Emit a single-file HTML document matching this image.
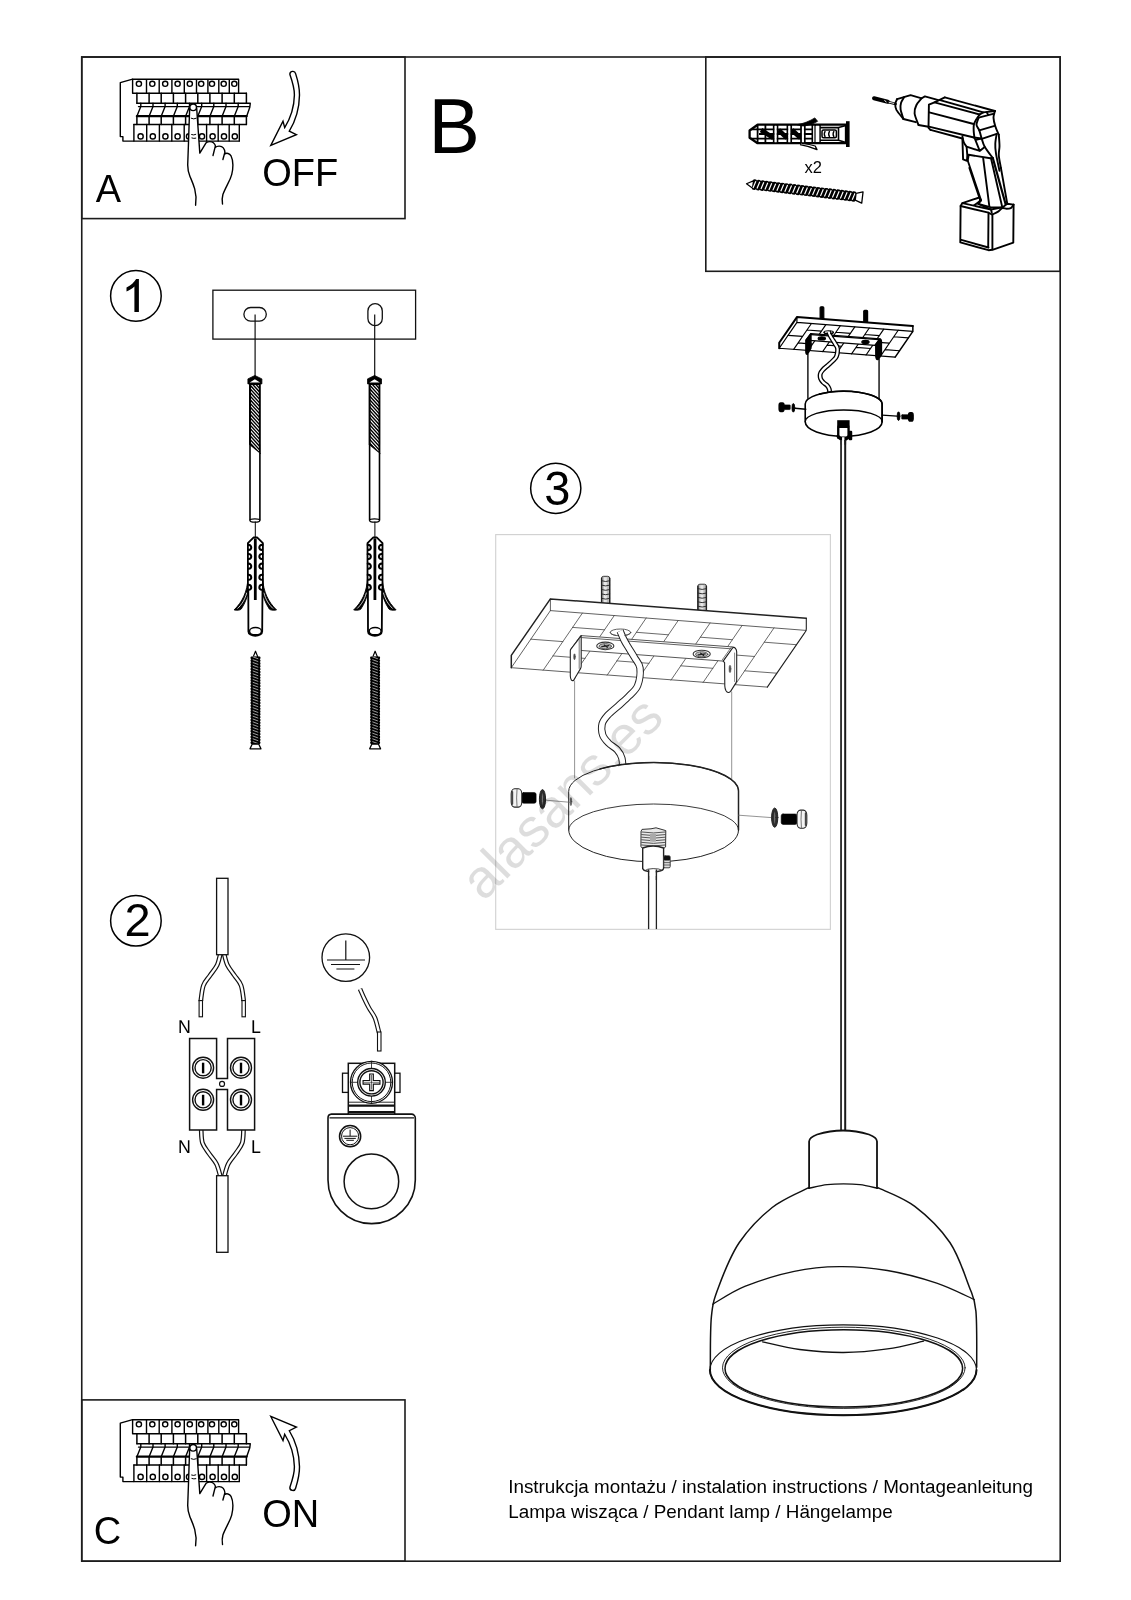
<!DOCTYPE html>
<html><head><meta charset="utf-8"><title>Instrukcja montażu</title>
<style>
html,body{margin:0;padding:0;background:#fff;}
body{width:1131px;height:1600px;overflow:hidden;font-family:"Liberation Sans",sans-serif;}
svg{display:block;}
</style></head><body>
<svg width="1131" height="1600" viewBox="0 0 1131 1600">
<rect width="1131" height="1600" fill="#fff"/>
<g fill="none" stroke="#1c1c1c" stroke-width="1.6">
<rect x="81.75" y="57" width="978.45" height="1504.2"/>
<rect x="81.75" y="57" width="323.25" height="161.6"/>
<rect x="81.75" y="1399.9" width="323.25" height="161.3"/>
<rect x="705.8" y="57" width="354.4" height="214.3"/>
</g>
<g font-family="Liberation Sans, sans-serif" fill="#000" opacity="0.999" style="will-change:opacity">
<text transform="translate(95.8,201.5) scale(1,1.035)" font-size="38" text-anchor="start">A</text>
<text transform="translate(93.8,1544.2) scale(1,1.035)" font-size="38" text-anchor="start">C</text>
<text transform="translate(262.3,186.3) scale(1,1.035)" font-size="38" text-anchor="start">OFF</text>
<text transform="translate(262.3,1526.6) scale(1,1.035)" font-size="38" text-anchor="start">ON</text>
<text transform="translate(428.6,153.2) scale(1,1.012)" font-size="77" text-anchor="start">B</text>
<text transform="translate(804.5,172.8) scale(1.0,1.0)" font-size="16.5" text-anchor="start">x2</text>
<text transform="translate(508.2,1492.7) scale(1.0,1.0)" font-size="18.85" text-anchor="start">Instrukcja montażu / instalation instructions / Montageanleitung</text>
<text transform="translate(508.2,1518.2) scale(1.0,1.0)" font-size="18.85" text-anchor="start">Lampa wisząca / Pendant lamp / Hängelampe</text>
</g>
<g fill="none" stroke="#000" stroke-width="1.5">
<circle cx="135.9" cy="295.9" r="25.3"/>
<circle cx="135.9" cy="920.75" r="25.3"/>
<circle cx="555.75" cy="488.3" r="25.1"/>
</g>
<g font-family="Liberation Sans, sans-serif" fill="#000" opacity="0.999" style="will-change:opacity">
<path d="M138.9,311.9 H134.4 V286.6 C132.4,288.6 129.4,290.4 126.5,291.5 V287.4 C130.8,285.4 134.4,282 136.1,278.9 H138.9 Z"/>
<text transform="translate(137.6,936.3) scale(1,0.985)" font-size="47" text-anchor="middle">2</text>
<text transform="translate(557.3,505.0) scale(1,1.005)" font-size="47" text-anchor="middle">3</text>
</g>
<defs><g id="brk" fill="none" stroke="#000" stroke-width="1.4" stroke-linejoin="round" stroke-linecap="round">
<path d="M132.6,79.2 L120.3,82.6 L120.3,136.6 L122.9,136.6 L122.9,141.1 L239.3,141.1"/>
<path d="M132.6,79.2 H238.6 M132.6,93.3 H246.4 M132.6,79.2 V93.3 M146.5,79.2 V93.3 M159.2,79.2 V93.3 M171.9,79.2 V93.3 M184.3,79.2 V93.3 M196.5,79.2 V93.3 M207.9,79.2 V93.3 M218.8,79.2 V93.3 M229.3,79.2 V93.3 M238.6,79.2 V93.3"/>
<circle cx="138.9" cy="83.8" r="2.6"/>
<circle cx="152.3" cy="83.8" r="2.6"/>
<circle cx="165.2" cy="83.8" r="2.6"/>
<circle cx="177.6" cy="83.8" r="2.6"/>
<circle cx="189.8" cy="83.8" r="2.6"/>
<circle cx="201.2" cy="83.8" r="2.6"/>
<circle cx="212.0" cy="83.8" r="2.6"/>
<circle cx="223.7" cy="83.8" r="2.6"/>
<circle cx="234.3" cy="83.8" r="2.6"/>
<path stroke-width="1.5" d="M136.9,93.3 V103.2 M149.1,93.3 V103.2 M161.2,93.3 V103.2 M173.4,93.3 V103.2 M185.6,93.3 V103.2 M197.8,93.3 V103.2 M209.9,93.3 V103.2 M222.1,93.3 V103.2 M234.3,93.3 V103.2 M246.4,93.3 V103.2"/>
<path d="M136.9,103.2 H250.3 L249.8,107.2 L246.6,116.4 M138.5,106.6 H249.8"/>
<path stroke-width="2.3" d="M136.9,116.2 H246.6"/>
<path d="M140.8,103.2 V106.6 L136.9,116.2 M153.0,103.2 V106.6 L149.1,116.2 M165.1,103.2 V106.6 L161.2,116.2 M177.3,103.2 V106.6 L173.4,116.2 M189.5,103.2 V106.6 L185.6,116.2 M201.7,103.2 V106.6 L197.8,116.2 M213.8,103.2 V106.6 L209.9,116.2 M226.0,103.2 V106.6 L222.1,116.2 M238.2,103.2 V106.6 L234.3,116.2"/>
<path stroke-width="1.5" d="M136.9,117 V124.5 M149.1,117 V124.5 M161.2,117 V124.5 M173.4,117 V124.5 M185.6,117 V124.5 M197.8,117 V124.5 M209.9,117 V124.5 M222.1,117 V124.5 M234.3,117 V124.5 M246.4,117 V124.5"/>
<path d="M133.9,124.5 H246.4"/>
<path d="M133.9,124.5 V141.1 M146.7,124.5 V141.1 M159.4,124.5 V141.1 M171.8,124.5 V141.1 M184.2,124.5 V141.1 M196.3,124.5 V141.1 M206.6,124.5 V141.1 M218.2,124.5 V141.1 M229.2,124.5 V141.1 M239.3,124.5 V141.1"/>
<circle cx="140.6" cy="136.4" r="2.6"/>
<circle cx="152.8" cy="136.4" r="2.6"/>
<circle cx="165.4" cy="136.4" r="2.6"/>
<circle cx="177.6" cy="136.4" r="2.6"/>
<circle cx="189.0" cy="136.4" r="2.6"/>
<circle cx="202.0" cy="136.4" r="2.6"/>
<circle cx="212.6" cy="136.4" r="2.6"/>
<circle cx="224.0" cy="136.4" r="2.6"/>
<circle cx="234.8" cy="136.4" r="2.6"/>
<path d="M195.6,205.2 C196.6,199 196.6,196 194.7,188.9 C193,183 191,179 189.9,176.2 C188.2,172 187.7,168 187.7,165 L188.5,142.7 L189.6,110 A3.65,3.65 0 1 1 196.8,110 L199.8,153.1 L206.2,142.7 C208,141.3 211.5,141.2 213.4,142.7 L215.2,147.6 C217,145.6 221.5,145.6 223.3,147.9 L224.9,153.9 C226.5,152.8 229.6,153.2 231.0,155.8 C232.3,158.5 232.9,162 232.9,165 C232.9,168.5 232.5,171.5 231.7,174.6 C230.6,178.5 229,181.5 227.3,184.9 C225.5,188.5 224,191.5 222.9,194.5 C221.9,198 222,201 222.5,204 Z" fill="#fff" stroke="none"/>
<path d="M195.6,205.2 C196.6,199 196.6,196 194.7,188.9 C193,183 191,179 189.9,176.2 C188.2,172 187.7,168 187.7,165 L188.5,142.7 L189.6,110 A3.65,3.65 0 1 1 196.8,110 L199.8,153.1 L206.2,142.7 C208,141.3 211.5,141.2 213.4,142.7 C214.6,143.7 215.2,144.8 215.4,145.9 L213,155.5 M215.2,147.6 C217,145.6 221.5,145.6 223.3,147.9 C224.4,149.3 224.9,150.8 224.9,152.3 L222.9,159.5 M224.9,153.9 C226.5,152.8 229.6,153.2 231.0,155.8 C232.3,158.5 232.9,162 232.9,165 C232.9,168.5 232.5,171.5 231.7,174.6 C230.6,178.5 229,181.5 227.3,184.9 C225.5,188.5 224,191.5 222.9,194.5 C221.9,198 222,201 222.5,204"/>
<circle cx="193.15" cy="107.3" r="3.3" fill="#fff"/>
<path stroke-width="1" d="M191.2,118.3 Q193.7,119.6 196.2,118.3 M191.6,134.6 Q193.7,135.5 195.8,134.4 M191.9,138 Q193.8,138.8 195.8,138.2"/>
</g>
<path id="arw" fill="#fff" stroke="#000" stroke-width="1.4" stroke-linejoin="miter" d="M289.9,74.6 A2.9,2.9 0 0 1 295.6,73.6 C298.3,82 299.6,88 299.5,95 C299.3,108 295.5,121 289.3,131.1 L296.4,134.7 L270.8,145.4 L283,121.2 L284.7,127.6 C290,119 294.2,107 294.4,95 C294.5,88 292.5,82 289.9,74.6 Z"/>
</defs>
<use href="#brk"/><use href="#brk" transform="translate(0,1340.5)"/>
<use href="#arw"/><use href="#arw" transform="translate(0,1561.85) scale(1,-1)"/>
<g fill="none" stroke="#000" stroke-linejoin="round" stroke-linecap="butt">
<path stroke-width="2.3" fill="#fff" d="M749.6,130.5 L757.6,124.7 H846 V143.2 H757.6 L749.6,137.8 Z"/>
<rect x="846" y="121.2" width="3.6" height="25.8" fill="#000" stroke="none"/>
<path stroke-width="1.6" d="M751,129.4 H813 M751,138.6 H813"/>
<path stroke-width="2.2" d="M759,134 H813"/>
<path stroke-width="4.6" d="M761,130 L773.5,138 M778.5,130 L787,138 M792,130 L800.6,138"/>
<path stroke-width="1.8" d="M757.6,124.7 V143.2 M765.4,124.7 V143.2"/>
<path stroke-width="1.9" d="M773.8,124.7 V143.2 M777.4,124.7 V143.2 M787.5,124.7 V143.2 M791.1,124.7 V143.2 M801.1,124.7 V143.2 M804.7,124.7 V143.2"/>
<path stroke="#fff" stroke-width="2" d="M775.6,126 V142.2 M789.3,126 V142.2 M802.9,126 V142.2"/>
<path stroke-width="1.6" d="M812.3,124.7 V143.2 M815.2,124.7 V143.2 M820,124.7 V143.2"/>
<rect x="815.6" y="126" width="3.6" height="16" fill="#fff" stroke="none"/>
<path stroke-width="1.6" d="M820,127.6 H838.5 L846,125.4 M820,140.3 H838.5 L846,142.4 M838.5,127.6 V140.3"/>
<rect x="822" y="130" width="14.4" height="7.8" rx="1.5" stroke-width="1.5"/>
<path stroke-width="1.4" d="M825.2,131 Q823.4,134 825.2,137 M829.6,131 Q827.8,134 829.6,137 M834,131 Q832.2,134 834,137"/>
<path fill="#000" stroke="#000" stroke-width="0.8" d="M797,124.7 C804,123.5 810,121 814.8,117.9 L817.6,121.3 C813,124 808,125.6 803,126 Z"/>
<path stroke-width="1.3" fill="#fff" d="M802,143.4 C807,144 812,145 815.2,146 L817,149.6 C812,147.3 806,145.6 800,144.6"/>
</g>
<g transform="translate(746.5,183.7) rotate(6.80)"><path d="M0,0 L7,-3.90 L7,3.90 Z" fill="#fff" stroke="#000" stroke-width="1.2" stroke-linejoin="round"/>
<path d="M6,-4.50 L7.00,-5.20 L9.00,-5.20 L10.00,-4.50 L11.00,-5.20 L12.99,-5.20 L13.99,-4.50 L14.99,-5.20 L16.99,-5.20 L17.99,-4.50 L18.99,-5.20 L20.99,-5.20 L21.98,-4.50 L22.98,-5.20 L24.98,-5.20 L25.98,-4.50 L26.98,-5.20 L28.98,-5.20 L29.98,-4.50 L30.98,-5.20 L32.97,-5.20 L33.97,-4.50 L34.97,-5.20 L36.97,-5.20 L37.97,-4.50 L38.97,-5.20 L40.97,-5.20 L41.97,-4.50 L42.96,-5.20 L44.96,-5.20 L45.96,-4.50 L46.96,-5.20 L48.96,-5.20 L49.96,-4.50 L50.96,-5.20 L52.95,-5.20 L53.95,-4.50 L54.95,-5.20 L56.95,-5.20 L57.95,-4.50 L58.95,-5.20 L60.95,-5.20 L61.95,-4.50 L62.95,-5.20 L64.94,-5.20 L65.94,-4.50 L66.94,-5.20 L68.94,-5.20 L69.94,-4.50 L70.94,-5.20 L72.94,-5.20 L73.93,-4.50 L74.93,-5.20 L76.93,-5.20 L77.93,-4.50 L78.93,-5.20 L80.93,-5.20 L81.93,-4.50 L82.93,-5.20 L84.92,-5.20 L85.92,-4.50 L86.92,-5.20 L88.92,-5.20 L89.92,-4.50 L90.92,-5.20 L92.92,-5.20 L93.92,-4.50 L94.91,-5.20 L96.91,-5.20 L97.91,-4.50 L98.91,-5.20 L100.91,-5.20 L101.91,-4.50 L102.91,-5.20 L104.90,-5.20 L105.90,-4.50 L106.90,-5.20 L108.90,-5.20 L109.90,-4.50 L109.9,4.50 L108.90,5.20 L106.90,5.20 L105.90,4.50 L104.90,5.20 L102.91,5.20 L101.91,4.50 L100.91,5.20 L98.91,5.20 L97.91,4.50 L96.91,5.20 L94.91,5.20 L93.92,4.50 L92.92,5.20 L90.92,5.20 L89.92,4.50 L88.92,5.20 L86.92,5.20 L85.92,4.50 L84.92,5.20 L82.93,5.20 L81.93,4.50 L80.93,5.20 L78.93,5.20 L77.93,4.50 L76.93,5.20 L74.93,5.20 L73.93,4.50 L72.94,5.20 L70.94,5.20 L69.94,4.50 L68.94,5.20 L66.94,5.20 L65.94,4.50 L64.94,5.20 L62.95,5.20 L61.95,4.50 L60.95,5.20 L58.95,5.20 L57.95,4.50 L56.95,5.20 L54.95,5.20 L53.95,4.50 L52.95,5.20 L50.96,5.20 L49.96,4.50 L48.96,5.20 L46.96,5.20 L45.96,4.50 L44.96,5.20 L42.96,5.20 L41.97,4.50 L40.97,5.20 L38.97,5.20 L37.97,4.50 L36.97,5.20 L34.97,5.20 L33.97,4.50 L32.97,5.20 L30.98,5.20 L29.98,4.50 L28.98,5.20 L26.98,5.20 L25.98,4.50 L24.98,5.20 L22.98,5.20 L21.98,4.50 L20.99,5.20 L18.99,5.20 L17.99,4.50 L16.99,5.20 L14.99,5.20 L13.99,4.50 L12.99,5.20 L11.00,5.20 L10.00,4.50 L9.00,5.20 L7.00,5.20 L6.00,4.50 Z" fill="#000" stroke="none"/>
<path d="M9.00,-3.50 L7.00,3.50 M12.99,-3.50 L10.99,3.50 M16.99,-3.50 L14.99,3.50 M20.99,-3.50 L18.99,3.50 M24.98,-3.50 L22.98,3.50 M28.98,-3.50 L26.98,3.50 M32.98,-3.50 L30.98,3.50 M36.97,-3.50 L34.97,3.50 M40.97,-3.50 L38.97,3.50 M44.96,-3.50 L42.96,3.50 M48.96,-3.50 L46.96,3.50 M52.96,-3.50 L50.96,3.50 M56.95,-3.50 L54.95,3.50 M60.95,-3.50 L58.95,3.50 M64.94,-3.50 L62.94,3.50 M68.94,-3.50 L66.94,3.50 M72.94,-3.50 L70.94,3.50 M76.93,-3.50 L74.93,3.50 M80.93,-3.50 L78.93,3.50 M84.92,-3.50 L82.92,3.50 M88.92,-3.50 L86.92,3.50 M92.92,-3.50 L90.92,3.50 M96.91,-3.50 L94.91,3.50 M100.91,-3.50 L98.91,3.50 M104.91,-3.50 L102.91,3.50 M108.90,-3.50 L106.90,3.50" stroke="#fff" stroke-width="1.20" fill="none"/>
<path d="M109.9,-3.43 L116.7,-5.6 L116.7,5.6 L109.9,3.43 Z" fill="#fff" stroke="#000" stroke-width="1.3" stroke-linejoin="round"/></g>
<g fill="none" stroke="#000" stroke-width="1.9" stroke-linejoin="round" stroke-linecap="round">
<path stroke-width="4" d="M874.0,98.2 L887.7,101.8"/>
<path stroke="#fff" stroke-width="1" d="M884.7,100.6 L886.3,101.9"/>
<path stroke-width="2.6" d="M887.9,102.0 L895.6,103.9"/>
<path stroke="#fff" stroke-width="0.9" d="M889.1,102.3 L893.9,103.4"/>
<path d="M897.1,99.1 C896.8,99.9 895.4,102.1 895.3,103.9 C895.2,105.7 895.1,107.4 896.4,109.9 C897.8,112.4 902.3,117.5 903.4,119.0"/>
<path d="M897.1,99.1 L910.6,95.2 L921.7,98.3 L924.9,96.4 L937.6,99.9"/>
<path d="M904.2,97.0 C903.7,98.0 901.6,101.0 901.0,103.1 C900.4,105.2 900.2,106.8 900.6,109.5 C901.0,112.1 903.0,117.4 903.4,119.0"/>
<path d="M903.4,119.0 L915.8,122.2"/>
<path d="M921.7,98.3 C920.8,99.5 917.3,103.0 916.2,105.5 C915.0,108.0 914.2,110.2 914.6,113.5 C915.0,116.7 917.9,123.1 918.5,125.0"/>
<path d="M918.5,125.0 L928.5,126.8"/>
<path d="M944.8,97.4 L934.5,102.3 L928.9,104.7 L928.5,127.8 L930.5,129.9"/>
<path d="M944.8,97.4 L994.9,111.0 M939.2,99.9 L983.2,112.4 M934.5,102.3 L979.7,114.5 M929.3,112.3 L973.7,124.0 M928.9,126.6 L974.0,137.5 M930.5,129.9 L962.4,138.5"/>
<path d="M979.7,114.5 L983.2,112.4 L994.9,111.0"/>
<path d="M978.6,117.7 L993.1,113.8 M986.8,112.4 L988.2,114.9"/>
<path d="M979.7,114.5 C979.2,115.1 977.8,116.8 976.9,118.4 C975.9,120.0 974.6,121.9 974.0,124.0 C973.5,126.2 973.6,128.9 973.7,131.1 C973.8,133.4 974.3,136.4 974.4,137.5"/>
<path d="M978.6,117.7 C978.3,118.9 976.4,122.6 976.5,124.8 C976.6,126.9 978.5,128.1 979.3,130.4 C980.2,132.8 980.9,136.2 981.8,138.9 C982.7,141.6 982.8,143.5 984.7,146.7 C986.5,149.9 991.4,156.1 992.8,158.0"/>
<path d="M994.9,111.0 C994.7,112.1 993.4,115.1 993.5,117.7 C993.6,120.2 994.4,123.3 995.3,126.2 C996.1,129.0 998.2,133.2 998.8,134.7"/>
<path d="M979.3,130.4 L994.6,125.8 M981.8,138.9 L996.7,133.9 M974.0,137.5 L981.1,138.5"/>
<path d="M962.4,136.1 C962.6,137.1 963.1,140.7 963.8,142.4 C964.5,144.2 966.1,146.0 966.6,146.7 M966.6,146.7 L979.7,150.9 L984.7,147.0 M974.4,137.5 L979.7,150.9 M976.9,139.6 L981.1,138.5"/>
<path d="M962.4,138.5 L963.1,159.4 L967.0,160.8 L967.3,155.2 L966.6,146.7"/>
<path d="M967.7,160.5 L968.7,154.8 L990.3,158.3 L992.8,158.0"/>
<path stroke-width="1.8" d="M967.7,160.5 L981.1,200.3"/>
<path d="M969.4,167.9 L979.3,197.5 M983.2,158.3 L989.3,206.0 M991.0,158.3 L1002.3,207.4"/>
<path stroke-width="2.2" d="M992.8,158.0 L1005.9,205.3"/>
<path d="M998.8,134.7 C998.9,136.5 999.5,142.6 999.5,146.0 C999.5,149.4 998.6,151.5 998.8,155.2 C999.0,158.8 1000.6,165.8 1000.9,167.9"/>
<path d="M1000.9,167.9 L1007.3,203.8"/>
<path d="M996.7,133.9 C996.4,135.6 995.4,140.5 995.3,143.8 C995.1,147.1 995.3,149.3 996.0,153.7 C996.7,158.2 998.9,167.9 999.5,170.7"/>
<path fill="#fff" d="M960.6,206.0 L960.3,242.4 L988.5,250.2 L992.4,249.8 L1013.3,242.7 L1013.6,204.6 L1007.3,203.8 L1002.3,207.4 L991.0,209.5 L978.3,203.8 L981.1,200.3 L979.3,197.5 L962.4,203.1 Z"/>
<path d="M960.6,206.0 L988.5,212.7 L988.2,247.7 M992.4,214.5 L992.4,249.3 M961.3,239.9 L988.5,247.5"/>
<path d="M962.4,203.1 L991.0,209.5 L991.7,212.3 M978.3,203.8 L991.0,207.4 L1002.3,207.4"/>
<path d="M992.4,214.5 C993.4,214.0 996.4,212.7 998.1,211.6 C999.7,210.6 1000.9,208.6 1002.3,208.1 C1003.7,207.6 1005.2,208.8 1006.6,208.8 C1008.0,208.8 1009.6,208.8 1010.8,208.1 C1012.0,207.4 1013.2,205.1 1013.6,204.6"/>
<path d="M988.5,212.7 C988.8,212.9 989.7,213.5 990.3,213.7 C991.0,214.0 992.1,214.3 992.4,214.5"/>
<path d="M979.3,197.5 C979.4,198.1 980.6,199.7 979.7,201.0 C978.8,202.3 975.0,204.6 974.0,205.3"/>
</g>
<g fill="none" stroke="#111" stroke-width="1.3">
<rect x="212.9" y="290.2" width="202.7" height="48.9"/>
<rect x="243.9" y="307.5" width="22.4" height="13.6" rx="6.8"/>
<rect x="367.9" y="303.7" width="14.4" height="21.9" rx="7.2"/>
<path d="M255.1,314.5 V376 M374.7,314.5 V376" stroke-width="1.2"/>
</g>
<g stroke="#000" fill="none" stroke-linejoin="round">
<path d="M247.9,378.9 L254.9,375.5 L261.9,378.9 V383.9 H247.9 Z" fill="#000" stroke-width="0.8"/>
<path d="M249.70000000000002,382.6 L254.9,379.3 L260.1,382.6 Z" fill="#fff" stroke="none"/>
<path d="M249.0,383.9 H260.8 V454.3 L249.0,444.6 Z" fill="#000" stroke="none"/>
<clipPath id="bc254"><path d="M251.0,384.9 H258.90000000000003 V451.6 L251.0,443.4 Z"/></clipPath>
<path clip-path="url(#bc254)" d="M250.0,376.00 L260.8,387.90 M250.0,379.62 L260.8,391.52 M250.0,383.24 L260.8,395.14 M250.0,386.86 L260.8,398.76 M250.0,390.48 L260.8,402.38 M250.0,394.10 L260.8,406.00 M250.0,397.72 L260.8,409.62 M250.0,401.34 L260.8,413.24 M250.0,404.96 L260.8,416.86 M250.0,408.58 L260.8,420.48 M250.0,412.20 L260.8,424.10 M250.0,415.82 L260.8,427.72 M250.0,419.44 L260.8,431.34 M250.0,423.06 L260.8,434.96 M250.0,426.68 L260.8,438.58 M250.0,430.30 L260.8,442.20 M250.0,433.92 L260.8,445.82 M250.0,437.54 L260.8,449.44 M250.0,441.16 L260.8,453.06 M250.0,444.78 L260.8,456.68 M250.0,448.40 L260.8,460.30" stroke="#fff" stroke-width="1.05"/>
<path d="M250.0,444 V520.6 M259.9,453 V520.6" stroke-width="1.6"/>
<ellipse cx="254.9" cy="520.5" rx="4.9" ry="1.7" stroke-width="1.3" fill="#fff"/>
</g>
<g transform="translate(255.3,0)" stroke="#000" fill="none" stroke-linejoin="round" stroke-linecap="round">
<path d="M0,522 V538" stroke-width="1"/>
<path d="M-7.3,578 C-8,592 -13,602 -21.2,609.9 C-17,610.6 -15,610 -14,609 C-10,603 -7.5,596 -6.6,590 Z" fill="#000" stroke-width="0.9"/>
<path d="M-8.6,593 C-10.5,600 -13.5,604.5 -17.5,608.3" stroke="#fff" stroke-width="0.8"/>
<path d="M7.3,578 C8,592 13,602 21.2,609.9 C17,610.6 15,610 14,609 C10,603 7.5,596 6.6,590 Z" fill="#000" stroke-width="0.9"/>
<path d="M8.6,593 C10.5,600 13.5,604.5 17.5,608.3" stroke="#fff" stroke-width="0.8"/>
<path d="M-7,588 L-6.9,631.4 A6.9,4.5 0 0 0 6.9,631.4 L7.2,588 Z" fill="#fff" stroke-width="1.8"/>
<ellipse cx="0.2" cy="631.2" rx="6" ry="3.6" stroke-width="1.5" fill="#fff"/>
<path d="M-7.4,590 V543.2 L-1.6,537.3 H1.8 L7.6,543.2 V590" fill="#fff" stroke-width="1.8"/>
<path d="M-7.2,544.9 C-3.2,544.3 -3.0,550.3 -6.8,549.9" stroke-width="2.1"/>
<path d="M7.2,544.9 C3.2,544.3 3.0,550.3 6.8,549.9" stroke-width="2.1"/>
<path d="M-7.2,554.0 C-3.2,553.4 -3.0,559.4 -6.8,559.0" stroke-width="2.1"/>
<path d="M7.2,554.0 C3.2,553.4 3.0,559.4 6.8,559.0" stroke-width="2.1"/>
<path d="M-7.2,563.6999999999999 C-3.2,563.0999999999999 -3.0,569.0999999999999 -6.8,568.6999999999999" stroke-width="2.1"/>
<path d="M7.2,563.6999999999999 C3.2,563.0999999999999 3.0,569.0999999999999 6.8,568.6999999999999" stroke-width="2.1"/>
<path d="M-7.2,574.8 C-3.2,574.1999999999999 -3.0,580.1999999999999 -6.8,579.8" stroke-width="2.1"/>
<path d="M7.2,574.8 C3.2,574.1999999999999 3.0,580.1999999999999 6.8,579.8" stroke-width="2.1"/>
<path d="M-7.2,584.8 C-3.2,584.1999999999999 -3.0,590.1999999999999 -6.8,589.8" stroke-width="2.1"/>
<path d="M7.2,584.8 C3.2,584.1999999999999 3.0,590.1999999999999 6.8,589.8" stroke-width="2.1"/>
<path d="M0,538.3 V600" stroke-width="2.8" stroke-linecap="butt"/>
</g>
<g transform="translate(255.5,651.2) rotate(90)"><path d="M0,0 L6.2,-2.50 L6.2,2.50 Z" fill="#fff" stroke="#000" stroke-width="1.2" stroke-linejoin="round"/>
<path d="M5.2,-4.25 L5.91,-4.95 L7.32,-4.95 L8.03,-4.25 L8.73,-4.95 L10.15,-4.95 L10.85,-4.25 L11.56,-4.95 L12.97,-4.95 L13.68,-4.25 L14.38,-4.95 L15.80,-4.95 L16.50,-4.25 L17.21,-4.95 L18.62,-4.95 L19.33,-4.25 L20.04,-4.95 L21.45,-4.95 L22.15,-4.25 L22.86,-4.95 L24.27,-4.95 L24.98,-4.25 L25.69,-4.95 L27.10,-4.95 L27.81,-4.25 L28.51,-4.95 L29.93,-4.95 L30.63,-4.25 L31.34,-4.95 L32.75,-4.95 L33.46,-4.25 L34.16,-4.95 L35.58,-4.95 L36.28,-4.25 L36.99,-4.95 L38.40,-4.95 L39.11,-4.25 L39.82,-4.95 L41.23,-4.95 L41.94,-4.25 L42.64,-4.95 L44.05,-4.95 L44.76,-4.25 L45.47,-4.95 L46.88,-4.95 L47.59,-4.25 L48.29,-4.95 L49.71,-4.95 L50.41,-4.25 L51.12,-4.95 L52.53,-4.95 L53.24,-4.25 L53.95,-4.95 L55.36,-4.95 L56.06,-4.25 L56.77,-4.95 L58.18,-4.95 L58.89,-4.25 L59.60,-4.95 L61.01,-4.95 L61.72,-4.25 L62.42,-4.95 L63.84,-4.95 L64.54,-4.25 L65.25,-4.95 L66.66,-4.95 L67.37,-4.25 L68.07,-4.95 L69.49,-4.95 L70.19,-4.25 L70.90,-4.95 L72.31,-4.95 L73.02,-4.25 L73.73,-4.95 L75.14,-4.95 L75.85,-4.25 L76.55,-4.95 L77.96,-4.95 L78.67,-4.25 L79.38,-4.95 L80.79,-4.95 L81.50,-4.25 L82.20,-4.95 L83.62,-4.95 L84.32,-4.25 L85.03,-4.95 L86.44,-4.95 L87.15,-4.25 L87.85,-4.95 L89.27,-4.95 L89.97,-4.25 L90.68,-4.95 L92.09,-4.95 L92.80,-4.25 L92.8,4.25 L92.09,4.95 L90.68,4.95 L89.97,4.25 L89.27,4.95 L87.85,4.95 L87.15,4.25 L86.44,4.95 L85.03,4.95 L84.32,4.25 L83.62,4.95 L82.20,4.95 L81.50,4.25 L80.79,4.95 L79.38,4.95 L78.67,4.25 L77.96,4.95 L76.55,4.95 L75.85,4.25 L75.14,4.95 L73.73,4.95 L73.02,4.25 L72.31,4.95 L70.90,4.95 L70.19,4.25 L69.49,4.95 L68.07,4.95 L67.37,4.25 L66.66,4.95 L65.25,4.95 L64.54,4.25 L63.84,4.95 L62.42,4.95 L61.72,4.25 L61.01,4.95 L59.60,4.95 L58.89,4.25 L58.18,4.95 L56.77,4.95 L56.06,4.25 L55.36,4.95 L53.95,4.95 L53.24,4.25 L52.53,4.95 L51.12,4.95 L50.41,4.25 L49.71,4.95 L48.29,4.95 L47.59,4.25 L46.88,4.95 L45.47,4.95 L44.76,4.25 L44.05,4.95 L42.64,4.95 L41.94,4.25 L41.23,4.95 L39.82,4.95 L39.11,4.25 L38.40,4.95 L36.99,4.95 L36.28,4.25 L35.58,4.95 L34.16,4.95 L33.46,4.25 L32.75,4.95 L31.34,4.95 L30.63,4.25 L29.93,4.95 L28.51,4.95 L27.81,4.25 L27.10,4.95 L25.69,4.95 L24.98,4.25 L24.27,4.95 L22.86,4.95 L22.15,4.25 L21.45,4.95 L20.04,4.95 L19.33,4.25 L18.62,4.95 L17.21,4.95 L16.50,4.25 L15.80,4.95 L14.38,4.95 L13.68,4.25 L12.97,4.95 L11.56,4.95 L10.85,4.25 L10.15,4.95 L8.73,4.95 L8.03,4.25 L7.32,4.95 L5.91,4.95 L5.20,4.25 Z" fill="#000" stroke="none"/>
<path d="M7.61,-2.75 L5.61,2.75 M10.44,-2.75 L8.44,2.75 M13.26,-2.75 L11.26,2.75 M16.09,-2.75 L14.09,2.75 M18.92,-2.75 L16.92,2.75 M21.74,-2.75 L19.74,2.75 M24.57,-2.75 L22.57,2.75 M27.39,-2.75 L25.39,2.75 M30.22,-2.75 L28.22,2.75 M33.05,-2.75 L31.05,2.75 M35.87,-2.75 L33.87,2.75 M38.70,-2.75 L36.70,2.75 M41.52,-2.75 L39.52,2.75 M44.35,-2.75 L42.35,2.75 M47.17,-2.75 L45.17,2.75 M50.00,-2.75 L48.00,2.75 M52.83,-2.75 L50.83,2.75 M55.65,-2.75 L53.65,2.75 M58.48,-2.75 L56.48,2.75 M61.30,-2.75 L59.30,2.75 M64.13,-2.75 L62.13,2.75 M66.95,-2.75 L64.95,2.75 M69.78,-2.75 L67.78,2.75 M72.61,-2.75 L70.61,2.75 M75.43,-2.75 L73.43,2.75 M78.26,-2.75 L76.26,2.75 M81.08,-2.75 L79.08,2.75 M83.91,-2.75 L81.91,2.75 M86.74,-2.75 L84.74,2.75 M89.56,-2.75 L87.56,2.75 M92.39,-2.75 L90.39,2.75" stroke="#fff" stroke-width="0.62" fill="none"/>
<path d="M92.8,-3.27 L97.6,-5.45 L97.6,5.45 L92.8,3.27 Z" fill="#fff" stroke="#000" stroke-width="1.3" stroke-linejoin="round"/></g>
<g stroke="#000" fill="none" stroke-linejoin="round">
<path d="M367.5,378.9 L374.5,375.5 L381.5,378.9 V383.9 H367.5 Z" fill="#000" stroke-width="0.8"/>
<path d="M369.3,382.6 L374.5,379.3 L379.7,382.6 Z" fill="#fff" stroke="none"/>
<path d="M368.6,383.9 H380.4 V454.3 L368.6,444.6 Z" fill="#000" stroke="none"/>
<clipPath id="bc374"><path d="M370.6,384.9 H378.5 V451.6 L370.6,443.4 Z"/></clipPath>
<path clip-path="url(#bc374)" d="M369.6,376.00 L380.4,387.90 M369.6,379.62 L380.4,391.52 M369.6,383.24 L380.4,395.14 M369.6,386.86 L380.4,398.76 M369.6,390.48 L380.4,402.38 M369.6,394.10 L380.4,406.00 M369.6,397.72 L380.4,409.62 M369.6,401.34 L380.4,413.24 M369.6,404.96 L380.4,416.86 M369.6,408.58 L380.4,420.48 M369.6,412.20 L380.4,424.10 M369.6,415.82 L380.4,427.72 M369.6,419.44 L380.4,431.34 M369.6,423.06 L380.4,434.96 M369.6,426.68 L380.4,438.58 M369.6,430.30 L380.4,442.20 M369.6,433.92 L380.4,445.82 M369.6,437.54 L380.4,449.44 M369.6,441.16 L380.4,453.06 M369.6,444.78 L380.4,456.68 M369.6,448.40 L380.4,460.30" stroke="#fff" stroke-width="1.05"/>
<path d="M369.6,444 V520.6 M379.5,453 V520.6" stroke-width="1.6"/>
<ellipse cx="374.5" cy="520.5" rx="4.9" ry="1.7" stroke-width="1.3" fill="#fff"/>
</g>
<g transform="translate(374.9,0)" stroke="#000" fill="none" stroke-linejoin="round" stroke-linecap="round">
<path d="M0,522 V538" stroke-width="1"/>
<path d="M-7.3,578 C-8,592 -13,602 -21.2,609.9 C-17,610.6 -15,610 -14,609 C-10,603 -7.5,596 -6.6,590 Z" fill="#000" stroke-width="0.9"/>
<path d="M-8.6,593 C-10.5,600 -13.5,604.5 -17.5,608.3" stroke="#fff" stroke-width="0.8"/>
<path d="M7.3,578 C8,592 13,602 21.2,609.9 C17,610.6 15,610 14,609 C10,603 7.5,596 6.6,590 Z" fill="#000" stroke-width="0.9"/>
<path d="M8.6,593 C10.5,600 13.5,604.5 17.5,608.3" stroke="#fff" stroke-width="0.8"/>
<path d="M-7,588 L-6.9,631.4 A6.9,4.5 0 0 0 6.9,631.4 L7.2,588 Z" fill="#fff" stroke-width="1.8"/>
<ellipse cx="0.2" cy="631.2" rx="6" ry="3.6" stroke-width="1.5" fill="#fff"/>
<path d="M-7.4,590 V543.2 L-1.6,537.3 H1.8 L7.6,543.2 V590" fill="#fff" stroke-width="1.8"/>
<path d="M-7.2,544.9 C-3.2,544.3 -3.0,550.3 -6.8,549.9" stroke-width="2.1"/>
<path d="M7.2,544.9 C3.2,544.3 3.0,550.3 6.8,549.9" stroke-width="2.1"/>
<path d="M-7.2,554.0 C-3.2,553.4 -3.0,559.4 -6.8,559.0" stroke-width="2.1"/>
<path d="M7.2,554.0 C3.2,553.4 3.0,559.4 6.8,559.0" stroke-width="2.1"/>
<path d="M-7.2,563.6999999999999 C-3.2,563.0999999999999 -3.0,569.0999999999999 -6.8,568.6999999999999" stroke-width="2.1"/>
<path d="M7.2,563.6999999999999 C3.2,563.0999999999999 3.0,569.0999999999999 6.8,568.6999999999999" stroke-width="2.1"/>
<path d="M-7.2,574.8 C-3.2,574.1999999999999 -3.0,580.1999999999999 -6.8,579.8" stroke-width="2.1"/>
<path d="M7.2,574.8 C3.2,574.1999999999999 3.0,580.1999999999999 6.8,579.8" stroke-width="2.1"/>
<path d="M-7.2,584.8 C-3.2,584.1999999999999 -3.0,590.1999999999999 -6.8,589.8" stroke-width="2.1"/>
<path d="M7.2,584.8 C3.2,584.1999999999999 3.0,590.1999999999999 6.8,589.8" stroke-width="2.1"/>
<path d="M0,538.3 V600" stroke-width="2.8" stroke-linecap="butt"/>
</g>
<g transform="translate(375.1,651.2) rotate(90)"><path d="M0,0 L6.2,-2.50 L6.2,2.50 Z" fill="#fff" stroke="#000" stroke-width="1.2" stroke-linejoin="round"/>
<path d="M5.2,-4.25 L5.91,-4.95 L7.32,-4.95 L8.03,-4.25 L8.73,-4.95 L10.15,-4.95 L10.85,-4.25 L11.56,-4.95 L12.97,-4.95 L13.68,-4.25 L14.38,-4.95 L15.80,-4.95 L16.50,-4.25 L17.21,-4.95 L18.62,-4.95 L19.33,-4.25 L20.04,-4.95 L21.45,-4.95 L22.15,-4.25 L22.86,-4.95 L24.27,-4.95 L24.98,-4.25 L25.69,-4.95 L27.10,-4.95 L27.81,-4.25 L28.51,-4.95 L29.93,-4.95 L30.63,-4.25 L31.34,-4.95 L32.75,-4.95 L33.46,-4.25 L34.16,-4.95 L35.58,-4.95 L36.28,-4.25 L36.99,-4.95 L38.40,-4.95 L39.11,-4.25 L39.82,-4.95 L41.23,-4.95 L41.94,-4.25 L42.64,-4.95 L44.05,-4.95 L44.76,-4.25 L45.47,-4.95 L46.88,-4.95 L47.59,-4.25 L48.29,-4.95 L49.71,-4.95 L50.41,-4.25 L51.12,-4.95 L52.53,-4.95 L53.24,-4.25 L53.95,-4.95 L55.36,-4.95 L56.06,-4.25 L56.77,-4.95 L58.18,-4.95 L58.89,-4.25 L59.60,-4.95 L61.01,-4.95 L61.72,-4.25 L62.42,-4.95 L63.84,-4.95 L64.54,-4.25 L65.25,-4.95 L66.66,-4.95 L67.37,-4.25 L68.07,-4.95 L69.49,-4.95 L70.19,-4.25 L70.90,-4.95 L72.31,-4.95 L73.02,-4.25 L73.73,-4.95 L75.14,-4.95 L75.85,-4.25 L76.55,-4.95 L77.96,-4.95 L78.67,-4.25 L79.38,-4.95 L80.79,-4.95 L81.50,-4.25 L82.20,-4.95 L83.62,-4.95 L84.32,-4.25 L85.03,-4.95 L86.44,-4.95 L87.15,-4.25 L87.85,-4.95 L89.27,-4.95 L89.97,-4.25 L90.68,-4.95 L92.09,-4.95 L92.80,-4.25 L92.8,4.25 L92.09,4.95 L90.68,4.95 L89.97,4.25 L89.27,4.95 L87.85,4.95 L87.15,4.25 L86.44,4.95 L85.03,4.95 L84.32,4.25 L83.62,4.95 L82.20,4.95 L81.50,4.25 L80.79,4.95 L79.38,4.95 L78.67,4.25 L77.96,4.95 L76.55,4.95 L75.85,4.25 L75.14,4.95 L73.73,4.95 L73.02,4.25 L72.31,4.95 L70.90,4.95 L70.19,4.25 L69.49,4.95 L68.07,4.95 L67.37,4.25 L66.66,4.95 L65.25,4.95 L64.54,4.25 L63.84,4.95 L62.42,4.95 L61.72,4.25 L61.01,4.95 L59.60,4.95 L58.89,4.25 L58.18,4.95 L56.77,4.95 L56.06,4.25 L55.36,4.95 L53.95,4.95 L53.24,4.25 L52.53,4.95 L51.12,4.95 L50.41,4.25 L49.71,4.95 L48.29,4.95 L47.59,4.25 L46.88,4.95 L45.47,4.95 L44.76,4.25 L44.05,4.95 L42.64,4.95 L41.94,4.25 L41.23,4.95 L39.82,4.95 L39.11,4.25 L38.40,4.95 L36.99,4.95 L36.28,4.25 L35.58,4.95 L34.16,4.95 L33.46,4.25 L32.75,4.95 L31.34,4.95 L30.63,4.25 L29.93,4.95 L28.51,4.95 L27.81,4.25 L27.10,4.95 L25.69,4.95 L24.98,4.25 L24.27,4.95 L22.86,4.95 L22.15,4.25 L21.45,4.95 L20.04,4.95 L19.33,4.25 L18.62,4.95 L17.21,4.95 L16.50,4.25 L15.80,4.95 L14.38,4.95 L13.68,4.25 L12.97,4.95 L11.56,4.95 L10.85,4.25 L10.15,4.95 L8.73,4.95 L8.03,4.25 L7.32,4.95 L5.91,4.95 L5.20,4.25 Z" fill="#000" stroke="none"/>
<path d="M7.61,-2.75 L5.61,2.75 M10.44,-2.75 L8.44,2.75 M13.26,-2.75 L11.26,2.75 M16.09,-2.75 L14.09,2.75 M18.92,-2.75 L16.92,2.75 M21.74,-2.75 L19.74,2.75 M24.57,-2.75 L22.57,2.75 M27.39,-2.75 L25.39,2.75 M30.22,-2.75 L28.22,2.75 M33.05,-2.75 L31.05,2.75 M35.87,-2.75 L33.87,2.75 M38.70,-2.75 L36.70,2.75 M41.52,-2.75 L39.52,2.75 M44.35,-2.75 L42.35,2.75 M47.17,-2.75 L45.17,2.75 M50.00,-2.75 L48.00,2.75 M52.83,-2.75 L50.83,2.75 M55.65,-2.75 L53.65,2.75 M58.48,-2.75 L56.48,2.75 M61.30,-2.75 L59.30,2.75 M64.13,-2.75 L62.13,2.75 M66.95,-2.75 L64.95,2.75 M69.78,-2.75 L67.78,2.75 M72.61,-2.75 L70.61,2.75 M75.43,-2.75 L73.43,2.75 M78.26,-2.75 L76.26,2.75 M81.08,-2.75 L79.08,2.75 M83.91,-2.75 L81.91,2.75 M86.74,-2.75 L84.74,2.75 M89.56,-2.75 L87.56,2.75 M92.39,-2.75 L90.39,2.75" stroke="#fff" stroke-width="0.62" fill="none"/>
<path d="M92.8,-3.27 L97.6,-5.45 L97.6,5.45 L92.8,3.27 Z" fill="#fff" stroke="#000" stroke-width="1.3" stroke-linejoin="round"/></g>
<g fill="none" stroke="#111" stroke-linejoin="miter">
<path d="M220.6,953.0 C220.0,955.0 219.0,961.2 217.2,965.0 C215.4,968.8 212.3,972.1 210.0,975.5 C207.7,978.9 204.9,981.3 203.4,985.5 C201.9,989.7 201.2,998.1 200.8,1000.6" fill="none" stroke="#111" stroke-width="4.7"/><path d="M220.6,953.0 C220.0,955.0 219.0,961.2 217.2,965.0 C215.4,968.8 212.3,972.1 210.0,975.5 C207.7,978.9 204.9,981.3 203.4,985.5 C201.9,989.7 201.2,998.1 200.8,1000.6" fill="none" stroke="#fff" stroke-width="2.3"/>
<path d="M223.9,953.0 C224.5,955.0 225.6,961.2 227.4,965.0 C229.2,968.8 232.2,972.1 234.5,975.5 C236.8,978.9 239.6,981.3 241.1,985.5 C242.6,989.7 243.3,998.1 243.7,1000.6" fill="none" stroke="#111" stroke-width="4.7"/><path d="M223.9,953.0 C224.5,955.0 225.6,961.2 227.4,965.0 C229.2,968.8 232.2,972.1 234.5,975.5 C236.8,978.9 239.6,981.3 241.1,985.5 C242.6,989.7 243.3,998.1 243.7,1000.6" fill="none" stroke="#fff" stroke-width="2.3"/>
<path d="M198.5,1000.6 H203.1 M241.4,1000.6 H246" stroke-width="1.2"/>
<rect x="199.1" y="1000.6" width="3.4" height="16.2" stroke-width="1.1" fill="#fff"/>
<rect x="242" y="1000.6" width="3.4" height="16.2" stroke-width="1.1" fill="#fff"/>
<rect x="216.6" y="878.3" width="11.4" height="76.4" stroke-width="1.3" fill="#fff"/>
<path d="M201.2,1129.9 C201.4,1132.1 201.2,1139.1 202.5,1143.0 C203.8,1146.9 206.7,1150.0 209.0,1153.5 C211.3,1157.0 214.6,1160.1 216.5,1164.0 C218.4,1167.9 219.9,1174.8 220.6,1177.0" fill="none" stroke="#111" stroke-width="4.7"/><path d="M201.2,1129.9 C201.4,1132.1 201.2,1139.1 202.5,1143.0 C203.8,1146.9 206.7,1150.0 209.0,1153.5 C211.3,1157.0 214.6,1160.1 216.5,1164.0 C218.4,1167.9 219.9,1174.8 220.6,1177.0" fill="none" stroke="#fff" stroke-width="2.3"/>
<path d="M243.5,1129.9 C243.3,1132.1 243.5,1139.1 242.2,1143.0 C240.9,1146.9 238.0,1150.0 235.7,1153.5 C233.4,1157.0 230.1,1160.1 228.2,1164.0 C226.3,1167.9 224.8,1174.8 224.1,1177.0" fill="none" stroke="#111" stroke-width="4.7"/><path d="M243.5,1129.9 C243.3,1132.1 243.5,1139.1 242.2,1143.0 C240.9,1146.9 238.0,1150.0 235.7,1153.5 C233.4,1157.0 230.1,1160.1 228.2,1164.0 C226.3,1167.9 224.8,1174.8 224.1,1177.0" fill="none" stroke="#fff" stroke-width="2.3"/>
<rect x="216.6" y="1175.7" width="11.4" height="76.6" stroke-width="1.3" fill="#fff"/>
<path d="M189.6,1038.5 H216.6 V1078.4 H227.5 V1038.5 H254.6 V1129.9 H227.5 V1089.6 H216.6 V1129.9 H189.6 Z" stroke-width="1.5" fill="#fff"/>
<circle cx="222.05" cy="1083.9" r="2.5" stroke-width="1.2"/>
<circle cx="203.1" cy="1067.7" r="10.5" stroke-width="1.4"/><circle cx="203.1" cy="1067.7" r="8.1" stroke-width="1.4"/>
<path d="M203.1,1062.7 V1073.3" stroke="#000" stroke-width="2.4"/>
<circle cx="203.1" cy="1099.8" r="10.5" stroke-width="1.4"/><circle cx="203.1" cy="1099.8" r="8.1" stroke-width="1.4"/>
<path d="M203.1,1094.8 V1105.3999999999999" stroke="#000" stroke-width="2.4"/>
<circle cx="241.0" cy="1067.7" r="10.5" stroke-width="1.4"/><circle cx="241.0" cy="1067.7" r="8.1" stroke-width="1.4"/>
<path d="M241.0,1062.7 V1073.3" stroke="#000" stroke-width="2.4"/>
<circle cx="241.0" cy="1099.8" r="10.5" stroke-width="1.4"/><circle cx="241.0" cy="1099.8" r="8.1" stroke-width="1.4"/>
<path d="M241.0,1094.8 V1105.3999999999999" stroke="#000" stroke-width="2.4"/>
</g>
<g font-family="Liberation Sans, sans-serif" fill="#000" font-size="17.8" opacity="0.999" text-rendering="geometricPrecision" style="will-change:opacity">
<text transform="translate(177.9,1032.6) scale(1,1.04)">N</text>
<text transform="translate(250.9,1032.6) scale(1,1.04)">L</text>
<text transform="translate(177.9,1153.3) scale(1,1.04)">N</text>
<text transform="translate(250.9,1153.3) scale(1,1.04)">L</text>
</g>
<g fill="none" stroke="#111" stroke-width="1.2">
<circle cx="345.8" cy="957.6" r="23.8" stroke-width="1.3"/>
<path d="M345.8,940.6 V960 M327,960 H365 M331,964.5 H360 M336.4,969 H354.4"/>
<path d="M360.0,989.0 C360.7,990.5 362.5,994.8 364.0,998.0 C365.5,1001.2 367.2,1004.7 369.0,1008.0 C370.8,1011.3 373.3,1013.9 375.0,1018.0 C376.7,1022.1 378.3,1030.1 379.0,1032.5" fill="none" stroke="#111" stroke-width="4.6"/><path d="M360.0,989.0 C360.7,990.5 362.5,994.8 364.0,998.0 C365.5,1001.2 367.2,1004.7 369.0,1008.0 C370.8,1011.3 373.3,1013.9 375.0,1018.0 C376.7,1022.1 378.3,1030.1 379.0,1032.5" fill="none" stroke="#fff" stroke-width="2.4"/>
<rect x="377.5" y="1032" width="3.5" height="19" stroke-width="1.1" fill="#fff"/>
<path d="M331.5,1114.1 H411.5 A3.8,3.8 0 0 1 415.3,1117.9 V1180 A43.65,43.65 0 0 1 328,1180 V1117.9 A3.8,3.8 0 0 1 331.5,1114.1 Z" stroke-width="1.6" fill="#fff"/>
<path d="M329.5,1117.9 H414" stroke-width="1.2"/>
<circle cx="371.4" cy="1181.4" r="27.3" stroke-width="1.5"/>
<circle cx="350.1" cy="1136.2" r="10.6" stroke-width="1.5"/><circle cx="350.1" cy="1136.2" r="8.6" stroke-width="1"/>
<path d="M350.1,1129.6 V1136.2 M342.8,1136.2 H357.4 M344.4,1138.4 H355.8 M346.3,1140.3 H353.9" stroke-width="1"/>
<rect x="342.5" y="1073.2" width="57.5" height="19.2" stroke-width="1.3" fill="#fff"/>
<rect x="348.3" y="1063.3" width="46.4" height="50.8" stroke-width="1.5" fill="#fff"/>
<path d="M348.3,1102.2 H394.7" stroke-width="0.9"/>
<path d="M348.3,1105.7 H394.7 M348.3,1112.2 H394.7" stroke-width="2.3"/>
<circle cx="371.5" cy="1082.3" r="21" stroke-width="1.3" fill="#fff"/><circle cx="371.5" cy="1082.3" r="19.3" stroke-width="1"/>
<path d="M371.5,1060.8 V1103.8 M350,1082.3 H393" stroke-width="0.8"/>
<circle cx="371.5" cy="1082.3" r="13.8" stroke-width="1.4" fill="#fff"/><circle cx="371.5" cy="1082.3" r="11.6" stroke-width="1.4"/>
<path d="M369.7,1074 H373.3 V1080.5 H379.9 V1084.1 H373.3 V1090.7 H369.7 V1084.1 H363.1 V1080.5 H369.7 Z" stroke-width="1.2"/>
<path d="M371.5,1075 V1089.6 M364,1082.3 H379" stroke-width="0.6"/>
</g>
<rect x="495.7" y="534.6" width="334.7" height="394.75" fill="none" stroke="#d2d2d2" stroke-width="1.15"/>
<clipPath id="c3"><rect x="495.7" y="534.9" width="334.5" height="394.4"/></clipPath>
<g clip-path="url(#c3)"><g fill="none" stroke="#444" stroke-width="0.85" stroke-linejoin="round" stroke-linecap="round">
<path d="M601.6,604 V578.3 Q601.6,576.3 603.6,576.3 H607.7 Q609.7,576.3 609.7,578.3 V604 Z" fill="#bdbdbd" stroke="#222" stroke-width="0.85"/>
<rect x="604.0" y="577.3" width="2.8" height="26.700000000000045" fill="#e8e8e8" stroke="none"/>
<path d="M601.6,580.8 Q605.6500000000001,582.4 609.7,580.8 M601.6,585.2 Q605.6500000000001,586.8 609.7,585.2 M601.6,589.6 Q605.6500000000001,591.2 609.7,589.6 M601.6,594.0 Q605.6500000000001,595.6 609.7,594.0 M601.6,598.4 Q605.6500000000001,600.0 609.7,598.4" fill="none" stroke="#333" stroke-width="1"/>
<path d="M601.6,604 V578.3 M609.7,578.3 V604" stroke="#222" stroke-width="1.4" fill="none"/>
<path d="M697.9,612 V586.2 Q697.9,584.2 699.9,584.2 H704.4 Q706.4,584.2 706.4,586.2 V612 Z" fill="#bdbdbd" stroke="#222" stroke-width="0.85"/>
<rect x="700.4" y="585.2" width="3.0" height="26.799999999999955" fill="#e8e8e8" stroke="none"/>
<path d="M697.9,588.7 Q702.15,590.3 706.4,588.7 M697.9,593.1 Q702.15,594.7 706.4,593.1 M697.9,597.5 Q702.15,599.1 706.4,597.5 M697.9,601.9 Q702.15,603.5 706.4,601.9 M697.9,606.3 Q702.15,607.9 706.4,606.3" fill="none" stroke="#333" stroke-width="1"/>
<path d="M697.9,612 V586.2 M706.4,586.2 V612" stroke="#222" stroke-width="1.4" fill="none"/>
<path d="M550.4,598.9 L806.3,618.3 L806.0,630.4 L767.3,687.1 L511.3,667.7 L511.3,655.4 Z" fill="#fff" stroke="none"/>
<path d="M582.4,613.1 L543.2,670.2 M614.3,615.5 L575.2,672.6 M646.2,618.0 L607.2,675.1 M678.2,620.5 L639.1,677.6 M710.1,623.0 L671.0,680.1 M742.1,625.5 L703.0,682.6 M774.0,627.9 L735.0,685.0 M530.9,639.2 L562.8,641.6 M572.6,627.4 L604.5,629.8 M553.0,655.9 L585.0,658.4 M594.8,644.1 L626.7,646.6 M636.5,632.3 L668.4,634.8 M616.9,660.9 L648.9,663.3 M658.7,649.0 L690.6,651.5 M700.4,637.2 L732.3,639.7 M680.8,665.8 L712.8,668.3 M722.6,654.0 L754.5,656.5 M764.3,642.2 L796.2,644.7 M744.7,670.8 L776.7,673.2" stroke-width="0.8"/>
<path d="M550.4,598.9 L550.4,610.6 M550.4,610.6 L806.0,630.4 M550.4,610.6 L511.3,667.7 M511.3,667.7 L767.3,687.1"/>
<path d="M806.3,618.3 L806.3,628.9 Q806.3,631.2 804.8,632.6 L767.3,687.1" stroke="#222" stroke-width="1.1"/>
<path d="M511.3,667.7 L511.3,655.4 L550.4,598.9 L806.3,618.3" stroke="#222" stroke-width="1.5"/>
<ellipse cx="620.5" cy="632.4" rx="10.3" ry="3.4" fill="#fff"/>
<path d="M581.2,635.6 L733.5,647.0 L723.2,661.1 L570.9,649.7 Z" fill="#fff" stroke-width="0.9"/>
<path d="M582.0,637.6 L731.0,648.8"/>
<ellipse cx="605.3" cy="645.9" rx="8.6" ry="3.8" fill="#fff" stroke="#333" stroke-width="1.1"/>
<ellipse cx="605.3" cy="646.1999999999999" rx="6.2" ry="2.6" fill="#bbb" stroke="#444" stroke-width="0.8"/>
<path d="M601.8,646.6999999999999 L608.8,645.6999999999999 M604.3,645.1 L607.3,647.3" stroke="#222" stroke-width="1.3"/>
<ellipse cx="701.7" cy="654.0" rx="8.6" ry="3.8" fill="#fff" stroke="#333" stroke-width="1.1"/>
<ellipse cx="701.7" cy="654.3" rx="6.2" ry="2.6" fill="#bbb" stroke="#444" stroke-width="0.8"/>
<path d="M698.2,654.8 L705.2,653.8 M700.7,653.2 L703.7,655.4" stroke="#222" stroke-width="1.3"/>
<path d="M581.2,635.6 L570.7,649.4 Q570.3,650 570.3,651 V676 Q570.6,681.5 573.6,680.4 L580.5,668.6 Q581.2,667.6 581.2,666 Z" fill="#fff" stroke="#222" stroke-width="1.1"/>
<path d="M579.2,639.5 V668.4" stroke="#555" stroke-width="0.8"/>
<ellipse cx="574.5" cy="656.8" rx="0.8" ry="3" fill="#555" stroke="#444" stroke-width="0.6"/>
<path d="M723.2,661.1 L732.6,648 Q733.8,646.6 735.4,648.4 Q736.7,650 736.7,652 V680.5 Q736.6,681.6 735.6,683.4 L730.6,691.4 Q728,694 726,690.8 Q724.9,688.6 724.8,686 L724.6,662.6 Z" fill="#fff" stroke="#222" stroke-width="1.1"/>
<path d="M722.2,659.9 L731.6,646.8" stroke="#555" stroke-width="0.8"/>
<path d="M734.6,653 V681.5" stroke="#666" stroke-width="0.8"/>
<ellipse cx="730" cy="668.9" rx="0.9" ry="3.6" fill="#555" stroke="#444" stroke-width="0.6"/>
<path d="M574.6,681 V778 M731.7,692 V782" stroke-width="0.7" stroke="#666"/>
<path d="M620.1,631.0 C620.8,632.5 622.6,637.2 624.0,640.0 C625.4,642.8 626.6,644.6 628.4,647.5 C630.1,650.4 632.6,654.1 634.5,657.5 C636.4,660.9 639.5,663.3 640.0,668.0 C640.5,672.7 639.5,680.8 637.7,685.5 C635.9,690.2 632.2,692.6 629.0,696.0 C625.8,699.4 621.8,702.6 618.2,705.9 C614.6,709.1 610.2,712.5 607.5,715.5 C604.8,718.5 602.9,720.8 602.1,724.0 C601.3,727.2 601.6,731.8 602.7,735.0 C603.8,738.2 606.1,740.5 608.5,743.0 C610.9,745.5 615.1,747.5 617.3,750.0 C619.5,752.5 620.9,755.0 621.8,758.0 C622.7,761.0 622.6,766.3 622.8,768.0" stroke="#222" stroke-width="7.4" stroke-linecap="butt"/><path d="M620.1,631.0 C620.8,632.5 622.6,637.2 624.0,640.0 C625.4,642.8 626.6,644.6 628.4,647.5 C630.1,650.4 632.6,654.1 634.5,657.5 C636.4,660.9 639.5,663.3 640.0,668.0 C640.5,672.7 639.5,680.8 637.7,685.5 C635.9,690.2 632.2,692.6 629.0,696.0 C625.8,699.4 621.8,702.6 618.2,705.9 C614.6,709.1 610.2,712.5 607.5,715.5 C604.8,718.5 602.9,720.8 602.1,724.0 C601.3,727.2 601.6,731.8 602.7,735.0 C603.8,738.2 606.1,740.5 608.5,743.0 C610.9,745.5 615.1,747.5 617.3,750.0 C619.5,752.5 620.9,755.0 621.8,758.0 C622.7,761.0 622.6,766.3 622.8,768.0" stroke="#fff" stroke-width="5.4" stroke-linecap="butt"/>
<path d="M610.2,632.4 A10.3,3.4 0 0 0 616.3,635.5 M624.8,635.5 A10.3,3.4 0 0 0 630.8,632.4"/>
<path d="M568.7,791 A84.9,28.5 0 0 1 738.5,791 V830 A84.9,31.8 0 0 1 568.7,830 Z" fill="#fff" stroke="#222" stroke-width="1.0"/>
<path d="M568.7,830 A84.9,26 0 0 1 738.5,830" stroke="#222" stroke-width="0.9"/>
<path d="M600,768.9 A84.9,28.5 0 0 1 738.5,791 V830" stroke="#222" stroke-width="1.5"/>
<ellipse cx="570.9" cy="801.6" rx="0.8" ry="4" fill="#666" stroke="#444" stroke-width="0.6"/>
<path d="M546,800.2 L570,802.3 M738.5,815.2 L771.6,817.6" stroke-width="0.7" stroke="#666"/>
<rect x="521.8" y="792.6" width="14.3" height="10.6" rx="1.8" fill="#000" stroke="#000" stroke-width="0.6"/>
<rect x="511.2" y="788.7" width="10.6" height="18.4" rx="3.4" ry="5.2" fill="#f4f4f4" stroke="#222" stroke-width="1.1"/>
<path d="M517.0,789.5 Q516.2,797.9 517.0,806.3" stroke="#555" stroke-width="0.8" fill="none"/>
<path d="M512.4,791.7 V804.1" stroke="#444" stroke-width="1.6" fill="none"/>
<ellipse cx="542.5" cy="799.2" rx="3.1" ry="9.6" fill="#2e2e2e" stroke="#222" stroke-width="1.0"/>
<ellipse cx="542.5" cy="799.2" rx="1.1" ry="6.4" fill="#777" stroke="#222" stroke-width="0.7"/>
<rect x="781.2" y="814.0" width="15.8" height="10.4" rx="1.8" fill="#000" stroke="#000" stroke-width="0.6"/>
<rect x="797.0" y="810.1" width="9.8" height="18.2" rx="3.4" ry="5.2" fill="#f4f4f4" stroke="#222" stroke-width="1.1"/>
<path d="M801.4,810.9 Q800.6,819.2 801.4,827.5" stroke="#555" stroke-width="0.8" fill="none"/>
<path d="M805.6,813.1 V825.3" stroke="#444" stroke-width="1.6" fill="none"/>
<ellipse cx="774.7" cy="817.6" rx="3.1" ry="9.6" fill="#2e2e2e" stroke="#222" stroke-width="1.0"/>
<ellipse cx="774.7" cy="817.6" rx="1.1" ry="6.4" fill="#777" stroke="#222" stroke-width="0.7"/>
<path d="M648.6,868 V929.3 M656.4,868 V929.3" stroke="#222" stroke-width="1.3" stroke-linecap="butt"/>
<path d="M641.2,831 L642,829.4 L651,828.8 L656,827.8 L665.8,830.6 L665.6,847 L663.6,848.5 H642.8 L641.2,847 Z" fill="#e9e9e9" stroke="#333" stroke-width="1"/>
<path d="M641.6,832.0 Q653.5,834.0 665.4,832.0 M641.6,834.6 Q653.5,836.6 665.4,834.6 M641.6,837.2 Q653.5,839.2 665.4,837.2 M641.6,839.8 Q653.5,841.8 665.4,839.8 M641.6,842.4 Q653.5,844.4 665.4,842.4 M641.6,845.0 Q653.5,847.0 665.4,845.0" stroke="#444" stroke-width="0.9"/>
<rect x="650" y="834" width="6" height="7.5" fill="#aaa" stroke="none"/>
<path d="M642.7,848 V868.5 A10.5,3.6 0 0 0 663.6,868.5 V848 Q653,844 642.7,848 Z" fill="#fff" stroke="#222" stroke-width="1.4"/>
<path d="M645,870.5 A9,2.6 0 0 1 662,870.2" stroke="#333" stroke-width="0.9"/>
<rect x="663.8" y="855.8" width="6.4" height="12" rx="1.2" fill="#ddd" stroke="#333" stroke-width="0.9"/>
<rect x="664" y="856" width="6" height="4.4" rx="1" fill="#111" stroke="none"/>
<path d="M664.4,862.6 H670 M664.4,865 H670" stroke="#444" stroke-width="0.8"/>
<rect x="649.3" y="870" width="6.4" height="6" fill="#fff" stroke="none"/>
<path d="M648.6,869.5 V880 M656.4,869.5 V880" stroke="#222" stroke-width="1.3" stroke-linecap="butt"/>
</g></g>
<g transform="translate(547.6,45.8) scale(0.453)"><g fill="none" stroke="#000" stroke-width="2.649006622516556" stroke-linejoin="round" stroke-linecap="round">
<path d="M601.6,604 V578.3 Q601.6,576.3 603.6,576.3 H607.7 Q609.7,576.3 609.7,578.3 V604 Z" fill="#000" stroke="#000" stroke-width="2.649006622516556"/>
<path d="M697.9,612 V586.2 Q697.9,584.2 699.9,584.2 H704.4 Q706.4,584.2 706.4,586.2 V612 Z" fill="#000" stroke="#000" stroke-width="2.649006622516556"/>
<path d="M550.4,598.9 L806.3,618.3 L806.0,630.4 L767.3,687.1 L511.3,667.7 L511.3,655.4 Z" fill="#fff" stroke="none"/>
<path d="M582.4,613.1 L543.2,670.2 M614.3,615.5 L575.2,672.6 M646.2,618.0 L607.2,675.1 M678.2,620.5 L639.1,677.6 M710.1,623.0 L671.0,680.1 M742.1,625.5 L703.0,682.6 M774.0,627.9 L735.0,685.0 M530.9,639.2 L562.8,641.6 M572.6,627.4 L604.5,629.8 M553.0,655.9 L585.0,658.4 M594.8,644.1 L626.7,646.6 M636.5,632.3 L668.4,634.8 M616.9,660.9 L648.9,663.3 M658.7,649.0 L690.6,651.5 M700.4,637.2 L732.3,639.7 M680.8,665.8 L712.8,668.3 M722.6,654.0 L754.5,656.5 M764.3,642.2 L796.2,644.7 M744.7,670.8 L776.7,673.2" stroke-width="2.538631346578366"/>
<path d="M550.4,598.9 L550.4,610.6 M550.4,610.6 L806.0,630.4 M550.4,610.6 L511.3,667.7 M511.3,667.7 L767.3,687.1"/>
<path d="M806.3,618.3 L806.3,628.9 Q806.3,631.2 804.8,632.6 L767.3,687.1" stroke="#000" stroke-width="3.311258278145695"/>
<path d="M511.3,667.7 L511.3,655.4 L550.4,598.9 L806.3,618.3" stroke="#000" stroke-width="4.415011037527593"/>
<ellipse cx="620.5" cy="632.4" rx="10.3" ry="3.4" fill="#fff"/>
<path d="M581.2,635.6 L733.5,647.0 L723.2,661.1 L570.9,649.7 Z" fill="#fff" stroke-width="2.8697571743929355"/>
<path d="M582.0,637.6 L731.0,648.8"/>
<ellipse cx="605.3" cy="645.9" rx="8" ry="3.6" fill="#000" stroke="#000" stroke-width="2.649006622516556"/>
<ellipse cx="701.7" cy="654.0" rx="8" ry="3.6" fill="#000" stroke="#000" stroke-width="2.649006622516556"/>
<path d="M581.2,635.6 L570.7,649.4 Q570.3,650 570.3,651 V676 Q570.6,681.5 573.6,680.4 L580.5,668.6 Q581.2,667.6 581.2,666 Z" fill="#000" stroke="#000" stroke-width="3.532008830022075"/>
<path d="M723.2,661.1 L732.6,648 Q733.8,646.6 735.4,648.4 Q736.7,650 736.7,652 V680.5 Q736.6,681.6 735.6,683.4 L730.6,691.4 Q728,694 726,690.8 Q724.9,688.6 724.8,686 L724.6,662.6 Z" fill="#000" stroke="#000" stroke-width="3.532008830022075"/>
<path d="M574.6,681 V778 M731.7,692 V782" stroke-width="2.9801324503311255" stroke="#000"/>
<path d="M620.1,631.0 C620.8,632.5 622.6,637.2 624.0,640.0 C625.4,642.8 626.6,644.6 628.4,647.5 C630.1,650.4 632.6,654.1 634.5,657.5 C636.4,660.9 639.5,663.3 640.0,668.0 C640.5,672.7 639.5,680.8 637.7,685.5 C635.9,690.2 632.2,692.6 629.0,696.0 C625.8,699.4 621.8,702.6 618.2,705.9 C614.6,709.1 610.2,712.5 607.5,715.5 C604.8,718.5 602.9,720.8 602.1,724.0 C601.3,727.2 601.6,731.8 602.7,735.0 C603.8,738.2 606.1,740.5 608.5,743.0 C610.9,745.5 615.1,747.5 617.3,750.0 C619.5,752.5 620.9,755.0 621.8,758.0 C622.7,761.0 622.6,766.3 622.8,768.0" stroke="#000" stroke-width="10.8" stroke-linecap="butt"/><path d="M620.1,631.0 C620.8,632.5 622.6,637.2 624.0,640.0 C625.4,642.8 626.6,644.6 628.4,647.5 C630.1,650.4 632.6,654.1 634.5,657.5 C636.4,660.9 639.5,663.3 640.0,668.0 C640.5,672.7 639.5,680.8 637.7,685.5 C635.9,690.2 632.2,692.6 629.0,696.0 C625.8,699.4 621.8,702.6 618.2,705.9 C614.6,709.1 610.2,712.5 607.5,715.5 C604.8,718.5 602.9,720.8 602.1,724.0 C601.3,727.2 601.6,731.8 602.7,735.0 C603.8,738.2 606.1,740.5 608.5,743.0 C610.9,745.5 615.1,747.5 617.3,750.0 C619.5,752.5 620.9,755.0 621.8,758.0 C622.7,761.0 622.6,766.3 622.8,768.0" stroke="#fff" stroke-width="5.0" stroke-linecap="butt"/>
<path d="M610.2,632.4 A10.3,3.4 0 0 0 616.3,635.5 M624.8,635.5 A10.3,3.4 0 0 0 630.8,632.4"/>
<path d="M568.7,791 A84.9,28.5 0 0 1 738.5,791 V830 A84.9,31.8 0 0 1 568.7,830 Z" fill="#fff" stroke="#000" stroke-width="3.532008830022075"/>
<path d="M568.7,830 A84.9,26 0 0 1 738.5,830" stroke="#000" stroke-width="2.8697571743929355"/>
<path d="M600,768.9 A84.9,28.5 0 0 1 738.5,791 V830" stroke="#000" stroke-width="3.532008830022075"/>
<path d="M546,800.2 L570,802.3 M738.5,815.2 L771.6,817.6" stroke-width="2.9801324503311255" stroke="#000"/>
<rect x="521.8" y="792.6" width="14.3" height="10.6" rx="1.8" fill="#000" stroke="#000" stroke-width="0.6"/>
<rect x="511.2" y="788.7" width="10.6" height="18.4" rx="3.4" ry="5.2" fill="#000" stroke="#000" stroke-width="3.311258278145695"/>
<ellipse cx="542.5" cy="799.2" rx="3.1" ry="9.6" fill="#000" stroke="#000" stroke-width="1.7660044150110374"/>
<rect x="781.2" y="814.0" width="15.8" height="10.4" rx="1.8" fill="#000" stroke="#000" stroke-width="0.6"/>
<rect x="797.0" y="810.1" width="9.8" height="18.2" rx="3.4" ry="5.2" fill="#000" stroke="#000" stroke-width="3.311258278145695"/>
<ellipse cx="774.7" cy="817.6" rx="3.1" ry="9.6" fill="#000" stroke="#000" stroke-width="1.7660044150110374"/>
<path d="M648.6,868 V880 M656.4,868 V880" stroke="#000" stroke-width="2.9801324503311255" stroke-linecap="butt"/>
<rect x="641.6" y="841" width="22.8" height="24" fill="#fff" stroke="#000" stroke-width="5.2"/>
<rect x="639.3" y="826.5" width="27.4" height="14" fill="#000" stroke="none"/>
<path d="M641,862 Q653,877 665.5,862" fill="none" stroke="#000" stroke-width="7"/>
<rect x="664.5" y="850" width="8" height="21" rx="2.5" fill="#000" stroke="none"/>
<rect x="650" y="864" width="5.6" height="16" fill="#fff" stroke="none"/>
<path d="M648.2,864 V880 M657.4,864 V880" stroke="#000" stroke-width="2.9801324503311255" stroke-linecap="butt"/>
</g></g>
<g fill="none" stroke="#111" stroke-width="1.3" stroke-linejoin="round" stroke-linecap="round">
<path d="M841.05,440 V1131" stroke="#333" stroke-width="1.9" stroke-linecap="butt"/><path d="M845.2,440 V1131" stroke="#1a1a1a" stroke-width="2" stroke-linecap="butt"/>
<path d="M809.1,1188 V1141.5 Q809.1,1137.5 817.1,1134.5 Q843.0,1126.5 869.0,1134.5 Q877.0,1137.5 877.0,1141.5 V1188" fill="#fff" stroke-width="1.8"/>
<path d="M808.7,1187.7 C802.6,1191.0 783.8,1198.3 772.2,1207.5 C760.7,1216.6 748.3,1229.4 739.3,1242.5 C730.4,1255.7 723.4,1274.1 718.8,1286.4 C714.1,1298.7 712.8,1302.6 711.4,1316.6 C710.0,1330.5 710.5,1361.1 710.3,1370.0" stroke-width="1.5"/><path d="M877.8,1187.7 C883.9,1190.8 902.8,1197.2 914.8,1206.4 C926.8,1215.5 940.8,1229.2 949.9,1242.5 C958.9,1255.9 964.7,1275.0 969.1,1286.4 C973.4,1297.8 974.6,1297.6 975.9,1311.1 C977.2,1324.6 976.6,1357.9 976.7,1367.3" stroke-width="1.5"/>
<path d="M808.7,1188.3 C811.8,1187.7 821.3,1185.4 827.1,1184.7 C832.9,1184.0 838.0,1183.9 843.5,1183.9 C849.0,1183.9 854.2,1184.0 860.0,1184.7 C865.7,1185.4 874.8,1187.7 877.8,1188.3"/>
<path d="M712.8,1304.2 C718.1,1301.3 731.3,1291.9 744.8,1286.4 C758.4,1280.9 778.4,1274.6 794.2,1271.3 C809.9,1268.0 823.9,1266.8 839.4,1266.7 C854.9,1266.5 871.1,1267.8 887.4,1270.5 C903.6,1273.2 922.2,1278.3 936.7,1283.1 C951.2,1288.0 968.0,1296.8 974.3,1299.6"/>
<ellipse cx="843.2" cy="1370.0" rx="133.3" ry="45.2" stroke-width="1.2"/>
<path d="M709.9,1370.0 A133.3,45.2 0 0 0 976.5,1370.0" stroke-width="2"/>
<ellipse cx="843.8" cy="1368.4" rx="118.8" ry="38.7" stroke-width="1.5"/>
<ellipse cx="843.8" cy="1367.8" rx="121.3" ry="40.6" stroke-width="0.9"/>
<path d="M762.6,1341.8 C768.8,1343.1 786.2,1347.7 799.6,1349.5 C813.1,1351.2 828.9,1352.6 843.5,1352.5 C858.1,1352.4 874.0,1350.8 887.4,1348.9 C900.7,1347.0 917.5,1342.5 923.6,1341.2"/>
</g>
<text transform="translate(483.4,902.2) rotate(-45)" font-family="Liberation Sans, sans-serif" font-size="54" fill="#000" fill-opacity="0.135">alasans.es</text>
</svg>
</body></html>
